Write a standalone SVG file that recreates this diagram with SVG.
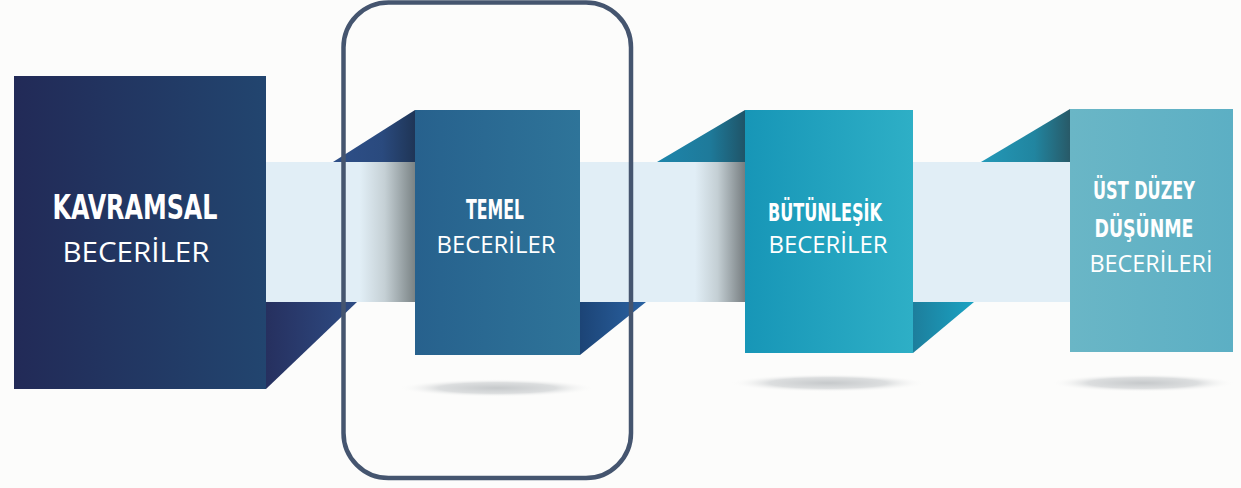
<svg xmlns="http://www.w3.org/2000/svg" width="1241" height="488" viewBox="0 0 1241 488">
  <defs>
    <linearGradient id="gK" x1="0" y1="0" x2="1" y2="0">
      <stop offset="0" stop-color="#222a57"/>
      <stop offset="1" stop-color="#22456f"/>
    </linearGradient>
    <linearGradient id="gT" x1="0" y1="0" x2="1" y2="0">
      <stop offset="0" stop-color="#27618d"/>
      <stop offset="1" stop-color="#2e7499"/>
    </linearGradient>
    <linearGradient id="gB" x1="0" y1="0" x2="1" y2="0">
      <stop offset="0" stop-color="#1796b7"/>
      <stop offset="1" stop-color="#2eafc6"/>
    </linearGradient>
    <linearGradient id="gU" x1="0" y1="0" x2="1" y2="0">
      <stop offset="0" stop-color="#6ab6c6"/>
      <stop offset="1" stop-color="#5cafc4"/>
    </linearGradient>
    <linearGradient id="fK" x1="0" y1="0" x2="1" y2="0">
      <stop offset="0" stop-color="#26305f"/>
      <stop offset="1" stop-color="#2e4c84"/>
    </linearGradient>
    <linearGradient id="fTt" x1="0" y1="0" x2="1" y2="0">
      <stop offset="0" stop-color="#2e4f88"/>
      <stop offset="0.6" stop-color="#2a4a7e"/>
      <stop offset="1" stop-color="#1f3556"/>
    </linearGradient>
    <linearGradient id="fTb" x1="0" y1="0" x2="1" y2="0">
      <stop offset="0" stop-color="#1c4476"/>
      <stop offset="1" stop-color="#2a62a2"/>
    </linearGradient>
    <linearGradient id="fBt" x1="0" y1="0" x2="1" y2="0">
      <stop offset="0" stop-color="#1d85ab"/>
      <stop offset="0.6" stop-color="#1e7a9a"/>
      <stop offset="1" stop-color="#1f5468"/>
    </linearGradient>
    <linearGradient id="fBb" x1="0" y1="0" x2="1" y2="0">
      <stop offset="0" stop-color="#1d7e9c"/>
      <stop offset="1" stop-color="#1aa3c3"/>
    </linearGradient>
    <linearGradient id="fUt" x1="0" y1="0" x2="1" y2="0">
      <stop offset="0" stop-color="#2399b8"/>
      <stop offset="0.6" stop-color="#2185a0"/>
      <stop offset="1" stop-color="#285a68"/>
    </linearGradient>
    <linearGradient id="band1" gradientUnits="userSpaceOnUse" x1="360" y1="0" x2="415" y2="0">
      <stop offset="0" stop-color="#e1eef6"/>
      <stop offset="0.45" stop-color="#c5d0d5"/>
      <stop offset="1" stop-color="#7a8385"/>
    </linearGradient>
    <linearGradient id="band2" gradientUnits="userSpaceOnUse" x1="695" y1="0" x2="745" y2="0">
      <stop offset="0" stop-color="#e1eef6"/>
      <stop offset="0.45" stop-color="#c4cfd4"/>
      <stop offset="1" stop-color="#767d80"/>
    </linearGradient>
    <radialGradient id="sh" cx="0.5" cy="0.5" r="0.5">
      <stop offset="0" stop-color="#c6c9cb"/>
      <stop offset="0.6" stop-color="#dcdedf"/>
      <stop offset="1" stop-color="#fcfcfb" stop-opacity="0"/>
    </radialGradient>
  </defs>
  <style>
    .t { font-family: "Liberation Sans Narrow", "DejaVu Sans Condensed", "Liberation Sans", sans-serif; font-weight: bold; fill: #ffffff; text-anchor: middle; }
    .r { font-family: "Open Sans", "Liberation Sans", sans-serif; fill: #ffffff; text-anchor: middle; }
    .sh { fill: url(#sh); }
  </style>
  <rect x="0" y="0" width="1241" height="488" fill="#fcfcfb"/>

  <g id="connectors">
    <rect x="266" y="162" width="804" height="140" fill="#e1eef6"/>
    <rect x="360" y="162" width="55" height="140" fill="url(#band1)"/>
    <rect x="695" y="162" width="50" height="140" fill="url(#band2)"/>
    <polygon points="266,302 357,302 266,389" fill="url(#fK)"/>
    <polygon points="333,162 415,110 415,162" fill="url(#fTt)"/>
    <polygon points="580,302 646,302 580,355" fill="url(#fTb)"/>
    <polygon points="657,162 745,110 745,162" fill="url(#fBt)"/>
    <polygon points="913,302 974,302 913,353" fill="url(#fBb)"/>
    <polygon points="981,162 1070,109 1070,162" fill="url(#fUt)"/>
  </g>

  <g id="node-kavramsal">
    <rect x="14" y="76" width="252" height="313" fill="url(#gK)"/>
    <text class="t" x="135" y="219" font-size="33" textLength="165" lengthAdjust="spacingAndGlyphs">KAVRAMSAL</text>
    <text class="r" x="136" y="262" font-size="27" textLength="147" lengthAdjust="spacingAndGlyphs">BECERİLER</text>
  </g>

  <g id="node-temel">
    <ellipse class="sh" cx="497" cy="388" rx="98" ry="9"/>
    <rect x="415" y="110" width="165" height="245" fill="url(#gT)"/>
    <text class="t" x="495" y="219" font-size="26" textLength="58" lengthAdjust="spacingAndGlyphs">TEMEL</text>
    <text class="r" x="496" y="253" font-size="23.5" textLength="119" lengthAdjust="spacingAndGlyphs">BECERİLER</text>
  </g>

  <g id="node-butunlesik">
    <ellipse class="sh" cx="828" cy="383" rx="98" ry="9"/>
    <rect x="745" y="110" width="168" height="243" fill="url(#gB)"/>
    <text class="t" x="825" y="221" font-size="25" textLength="114" lengthAdjust="spacingAndGlyphs">BÜTÜNLEŞİK</text>
    <text class="r" x="828" y="253" font-size="23.5" textLength="119" lengthAdjust="spacingAndGlyphs">BECERİLER</text>
  </g>

  <g id="node-ustduzey">
    <ellipse class="sh" cx="1143" cy="383" rx="92" ry="9"/>
    <rect x="1070" y="109" width="163" height="243" fill="url(#gU)"/>
    <text class="t" x="1144" y="199" font-size="25" textLength="102" lengthAdjust="spacingAndGlyphs">ÜST DÜZEY</text>
    <text class="t" x="1144" y="237" font-size="25" textLength="99" lengthAdjust="spacingAndGlyphs">DÜŞÜNME</text>
    <text class="r" x="1151" y="272" font-size="23.5" textLength="123" lengthAdjust="spacingAndGlyphs">BECERİLERİ</text>
  </g>

  <g id="highlight">
    <rect x="343.5" y="2.5" width="287.5" height="475.5" rx="45" ry="45" fill="none" stroke="#45556f" stroke-width="4.5"/>
  </g>
</svg>
